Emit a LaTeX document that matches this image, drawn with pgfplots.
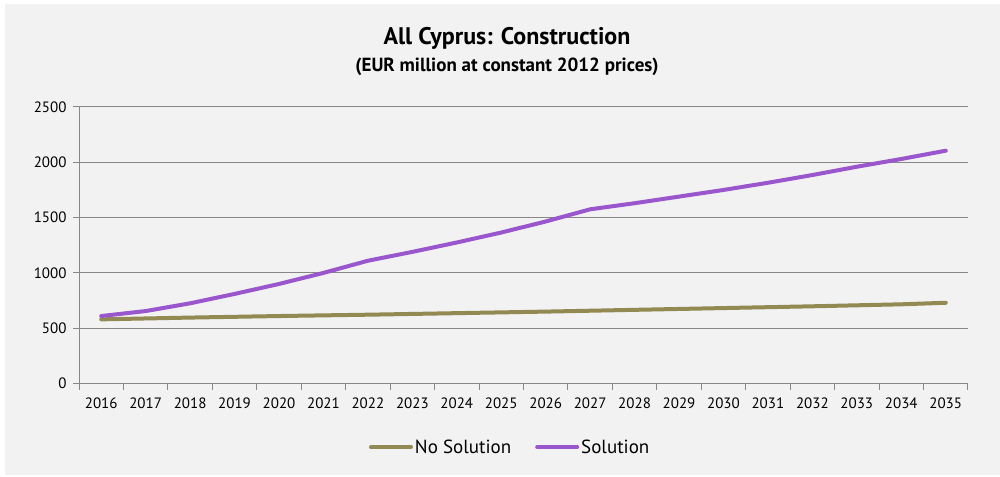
\documentclass[border=0pt]{standalone}
\usepackage{fontspec}
\setmainfont{PT Sans}
\usepackage{pgfplots}
\pgfplotsset{compat=1.18}
\definecolor{bgc}{HTML}{F2F2F2}
\definecolor{nosol}{HTML}{938953}
\definecolor{sol}{HTML}{9A57CD}
\definecolor{gridc}{HTML}{878787}
\begin{document}
\begin{tikzpicture}[x=1pt,y=1pt]
\fill[white] (0,0) rectangle (1000,476);
\fill[bgc] (5,1) rectangle (1000,472);
\node[font=\bfseries\fontsize{24}{28}\selectfont] at (507,438) {All Cyprus: Construction};
\node[font=\bfseries\fontsize{19}{22}\selectfont] at (507,409) {(EUR million at constant 2012 prices)};
\begin{axis}[
  at={(79pt,92.5pt)}, anchor=south west,
  scale only axis, width=889pt, height=276.5pt,
  xmin=2015.5, xmax=2035.5, ymin=0, ymax=2500,
  axis x line*=bottom, axis y line*=left,
  axis line style={gridc, line width=1pt},
  xtick={2016,...,2035},
  minor xtick={2015.5,2016.5,...,2035.5},
  major x tick style={draw=none},
  minor x tick style={gridc, line width=1pt},
  minor tick length=6pt,
  ytick={0,500,...,2500},
  major y tick style={gridc, line width=1pt},
  major tick length=6pt,
  tick align=outside,
  ymajorgrids, grid style={gridc, line width=1pt},
  /pgf/number format/assume math mode=true,
  /pgf/number format/1000 sep={},
  tick label style={font=\fontsize{15}{17}\selectfont},
  xticklabel style={yshift=-5pt},
  yticklabel style={xshift=-3pt},
  legend columns=2,
  legend style={at={(0.485,-0.23)}, anchor=center, draw=none, fill=none,
    font=\fontsize{19}{21}\selectfont, /tikz/every even column/.append style={column sep=22pt}},
  legend image code/.code={\draw[#1, line cap=round] (0pt,0pt) -- (40pt,0pt);},
]
\addplot[nosol, line width=4pt, line join=round, line cap=round] coordinates {
(2016,580) (2017,588) (2018,596) (2019,603) (2020,610) (2021,616) (2022,622) (2023,629) (2024,636) (2025,643)
(2026,650) (2027,658) (2028,666) (2029,674) (2030,682) (2031,690) (2032,698) (2033,707) (2034,716) (2035,730)};
\addlegendentry{No Solution}
\addplot[sol, line width=4pt, line join=round, line cap=round] coordinates {
(2016,610) (2017,655) (2018,725) (2019,810) (2020,900) (2021,1000) (2022,1110) (2023,1190) (2024,1275) (2025,1365)
(2026,1465) (2027,1575) (2028,1630) (2029,1690) (2030,1750) (2031,1815) (2032,1885) (2033,1960) (2034,2030) (2035,2105)};
\addlegendentry{Solution}
\end{axis}
\end{tikzpicture}
\end{document}
